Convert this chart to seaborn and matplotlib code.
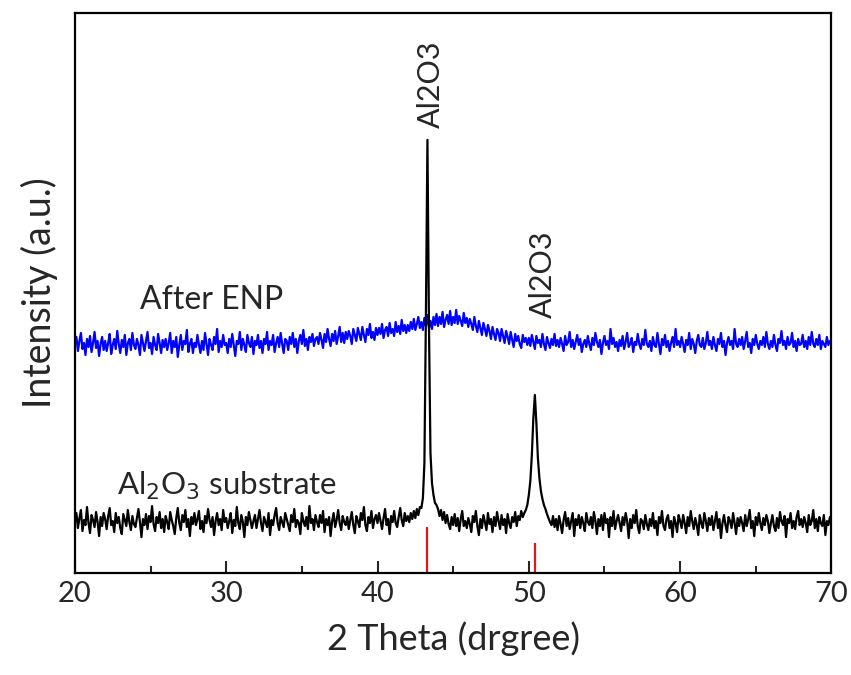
import numpy as np
import matplotlib
matplotlib.use("Agg")
import matplotlib.pyplot as plt
import seaborn as sns

# ==========================
# Data
# ==========================

# 2 theta grid, 20.0 ... 70.0 in 0.1 deg steps
two_theta = np.round(np.arange(200, 701) / 10.0, 1)

# Al2O3 substrate (black), arbitrary units
substrate = [
    52, 60, 45, 55, 63, 42, 53, 48, 66, 50, 40, 58, 53, 46, 61, 51, 37, 56, 47, 60,
    54, 44, 57, 65, 48, 52, 41, 60, 50, 56, 45, 39, 59, 53, 47, 63, 51, 43, 57, 49,
    46, 55, 64, 51, 36, 54, 48, 59, 44, 57, 51, 67, 49, 42, 56, 50, 61, 45, 54, 41,
    57, 51, 44, 61, 53, 47, 39, 55, 65, 50, 43, 58, 51, 63, 46, 54, 37, 56, 49, 60,
    48, 54, 62, 44, 52, 41, 57, 50, 64, 53, 46, 56, 38, 52, 60, 48, 54, 43, 63, 51,
    55, 45, 52, 60, 40, 53, 47, 66, 50, 44, 58, 51, 36, 56, 48, 61, 53, 45, 52, 58,
    45, 54, 63, 50, 42, 56, 51, 46, 60, 38, 53, 48, 58, 65, 50, 43, 56, 51, 46, 60,
    54, 48, 42, 58, 51, 64, 46, 53, 50, 39, 60, 52, 47, 56, 44, 67, 50, 54, 43, 58,
    51, 46, 58, 50, 62, 41, 54, 48, 56, 37, 52, 60, 46, 53, 63, 50, 43, 57, 51, 48,
    56, 44, 53, 61, 48, 40, 57, 52, 46, 60, 53, 66, 48, 42, 56, 50, 62, 45, 54, 58,
    50, 60, 52, 44, 55, 64, 48, 54, 39, 57, 51, 62, 50, 46, 56, 65, 53, 47, 60, 52,
    57, 51, 60, 54, 62, 55, 64, 58, 66, 65, 75, 110, 260, 433, 250, 120, 90, 78, 70, 68,
    64, 57, 63, 53, 61, 50, 58, 49, 44, 56, 48, 59, 47, 55, 42, 54, 62, 47, 52, 45,
    55, 49, 41, 57, 51, 62, 47, 38, 54, 45, 58, 51, 43, 60, 49, 54, 41, 56, 47, 61,
    52, 44, 58, 48, 54, 40, 59, 50, 45, 56, 51, 61, 47, 57, 53, 62, 56, 60, 63, 68,
    78, 92, 118, 155, 178, 150, 115, 95, 82, 74, 68, 64, 59, 55, 51, 48, 57, 46, 54, 43,
    57, 49, 40, 53, 61, 47, 55, 44, 52, 60, 37, 54, 48, 58, 45, 56, 50, 42, 60, 51,
    48, 56, 45, 61, 52, 39, 54, 47, 58, 43, 60, 50, 54, 36, 56, 47, 62, 44, 52, 58,
    50, 42, 56, 48, 60, 52, 35, 54, 45, 58, 50, 63, 47, 40, 54, 52, 44, 58, 49, 43,
    54, 47, 60, 45, 52, 38, 56, 50, 62, 47, 43, 54, 58, 45, 52, 36, 56, 50, 41, 58,
    52, 45, 58, 50, 40, 56, 47, 62, 52, 44, 55, 48, 38, 58, 50, 45, 60, 52, 42, 55,
    48, 57, 43, 52, 61, 45, 54, 35, 50, 58, 48, 41, 56, 52, 45, 60, 50, 39, 55, 47,
    56, 50, 42, 58, 47, 54, 63, 45, 52, 37, 56, 48, 60, 50, 43, 55, 48, 58, 52, 40,
    50, 58, 47, 42, 55, 45, 61, 52, 48, 57, 36, 54, 50, 60, 45, 52, 44, 56, 62, 48,
    54, 46, 56, 50, 41, 58, 48, 52, 63, 45, 54, 42, 56, 50, 47, 58, 38, 52, 48, 56,
    52,
]

# After ENP (blue), arbitrary units
after_enp = [
    229, 236, 222, 232, 240, 224, 230, 218, 234, 226, 237, 221, 230, 241, 225, 232, 217, 229, 236, 223,
    232, 222, 230, 239, 219, 228, 234, 224, 242, 229, 220, 233, 226, 238, 218, 230, 234, 223, 240, 228,
    224, 234, 228, 218, 238, 230, 222, 232, 241, 225, 230, 219, 236, 228, 223, 239, 230, 220, 233, 226,
    234, 223, 230, 240, 220, 232, 226, 236, 216, 228, 238, 223, 232, 229, 243, 221, 229, 234, 220, 230,
    226, 238, 228, 220, 232, 223, 240, 229, 218, 234, 228, 223, 236, 229, 244, 221, 232, 226, 238, 228,
    230, 220, 234, 226, 239, 228, 217, 232, 229, 241, 223, 234, 228, 221, 238, 230, 226, 236, 219, 232,
    228, 238, 225, 232, 220, 234, 229, 241, 223, 232, 228, 238, 221, 230, 236, 226, 240, 229, 220, 234,
    232, 223, 236, 229, 240, 226, 234, 220, 232, 238, 229, 243, 227, 234, 223, 236, 231, 239, 227, 234,
    236, 229, 240, 233, 225, 239, 231, 244, 234, 227, 239, 232, 242, 229, 237, 246, 231, 240, 230, 241,
    234, 242, 237, 229, 244, 238, 232, 245, 239, 233, 246, 238, 231, 244, 238, 249, 235, 241, 233, 245,
    238, 245, 239, 249, 235, 243, 246, 237, 250, 240, 244, 237, 251, 241, 247, 239, 253, 242, 248, 240,
    248, 242, 251, 244, 254, 243, 249, 256, 245, 251, 243, 255, 247, 258, 245, 252, 244, 256, 248, 259,
    247, 256, 249, 261, 246, 253, 258, 249, 262, 248, 256, 250, 263, 249, 257, 252, 247, 260, 250, 255,
    246, 254, 249, 243, 256, 247, 241, 252, 245, 238, 250, 244, 237, 248, 242, 234, 246, 239, 233, 244,
    240, 232, 244, 237, 230, 242, 236, 229, 241, 233, 226, 239, 232, 237, 229, 225, 238, 231, 235, 228,
    235, 227, 238, 231, 224, 237, 230, 233, 226, 239, 229, 223, 236, 230, 225, 234, 228, 239, 227, 233,
    226, 235, 229, 222, 237, 228, 231, 241, 226, 233, 224, 231, 238, 228, 234, 221, 229, 233, 226, 237,
    229, 223, 235, 228, 240, 231, 226, 233, 219, 230, 237, 228, 232, 224, 244, 229, 235, 226, 231, 222,
    233, 227, 237, 224, 231, 240, 226, 229, 235, 221, 231, 228, 239, 229, 224, 234, 228, 243, 229, 226,
    232, 222, 236, 228, 226, 240, 229, 219, 234, 228, 238, 226, 232, 222, 230, 236, 226, 244, 228, 232,
    226, 236, 229, 221, 233, 228, 240, 224, 234, 229, 220, 232, 238, 228, 226, 235, 224, 230, 241, 228,
    232, 224, 236, 228, 222, 234, 229, 240, 226, 232, 218, 230, 236, 228, 232, 224, 244, 229, 226, 234,
    228, 236, 224, 232, 241, 226, 230, 220, 234, 228, 238, 229, 224, 232, 228, 236, 226, 241, 229, 224,
    232, 226, 238, 228, 222, 234, 230, 242, 228, 232, 224, 236, 228, 230, 240, 226, 232, 222, 234, 228,
    229, 238, 226, 232, 224, 236, 228, 241, 229, 226, 234, 228, 238, 224, 232, 229, 226, 236, 228, 232,
    230,
]

# reference (PDF card) lines for Al2O3
ref_pos = [43.3, 50.4]
ref_height = [46, 30]

# ==========================
# Plot
# ==========================

sns.set_style("ticks")
plt.rcParams["font.family"] = ["Lato", "DejaVu Sans"]

fig, ax = plt.subplots(figsize=(8.51, 6.75), dpi=100)
fig.subplots_adjust(left=0.088, right=0.977, top=0.981, bottom=0.151)

sns.lineplot(x=two_theta, y=after_enp, color="#0000ff", lw=1.6, ax=ax)
sns.lineplot(x=two_theta, y=substrate, color="black", lw=1.6, ax=ax)
ax.vlines(ref_pos, 0, ref_height, color="#e8141c", lw=1.6)

ax.set_xlim(20, 70)
ax.set_ylim(0, 560)
ax.set_xticks([20, 30, 40, 50, 60, 70])
ax.set_xticks([25, 35, 45, 55, 65], minor=True)
ax.set_yticks([])
ax.tick_params(axis="x", which="major", direction="in", length=9, width=1.5,
               labelsize=21, pad=6)
ax.tick_params(axis="x", which="minor", direction="in", length=5, width=1.5)
for s in ax.spines.values():
    s.set_linewidth(1.6)
    s.set_color("black")

ax.set_xlabel("2 Theta (drgree)", fontsize=26, labelpad=10)
ax.set_ylabel("Intensity (a.u.)", fontsize=27, labelpad=12)

ax.text(24.3, 273, "After ENP", fontsize=23, va="center", ha="left")
ax.text(22.8, 78, "Al$_2$O$_3$ substrate", fontsize=22.5, va="baseline", ha="left")
ax.text(43.5, 445, "Al2O3", fontsize=22, rotation=90, ha="center", va="bottom")
ax.text(50.95, 255, "Al2O3", fontsize=22, rotation=90, ha="center", va="bottom")

plt.savefig("out.png", dpi=100)
